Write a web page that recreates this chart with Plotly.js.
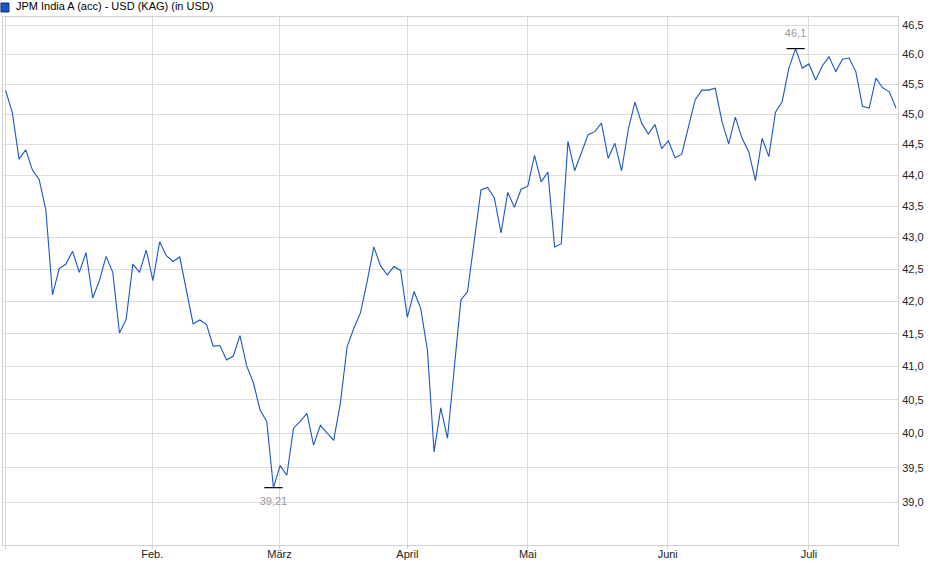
<!DOCTYPE html>
<html>
<head>
<meta charset="utf-8">
<script src="https://cdn.plot.ly/plotly-3.0.1.min.js"></script>
<style>
  html, body { margin: 0; padding: 0; background: #fff; }
  #chart { width: 940px; height: 579px; }
</style>
</head>
<body>
<div id="chart"></div>
<script>
// Series: JPM India A (acc) - USD, daily prices
const seriesName = 'JPM India A (acc) - USD (KAG) (in USD)';
const prices = [
  45.39, 45.02, 44.26, 44.41, 44.08, 43.93, 43.44, 42.10, 42.51, 42.58,
  42.78, 42.45, 42.76, 42.05, 42.32, 42.70, 42.45, 41.51, 41.72, 42.58,
  42.45, 42.80, 42.32, 42.93, 42.71, 42.62, 42.69, 42.18, 41.65, 41.71,
  41.64, 41.31, 41.32, 41.10, 41.16, 41.47, 41.01, 40.76, 40.35, 40.18,
  39.21, 39.53, 39.39, 40.08, 40.18, 40.30, 39.83, 40.12, 40.01, 39.90,
  40.45, 41.30, 41.58, 41.82, 42.31, 42.85, 42.55, 42.41, 42.54, 42.48,
  41.75, 42.15, 41.89, 41.25, 39.73, 40.38, 39.93, 40.95, 42.02, 42.15,
  42.93, 43.76, 43.80, 43.63, 43.07, 43.72, 43.48, 43.77, 43.82, 44.32,
  43.89, 44.05, 42.85, 42.90, 44.55, 44.07, 44.36, 44.66, 44.71, 44.85,
  44.27, 44.52, 44.07, 44.74, 45.20, 44.85, 44.67, 44.83, 44.43, 44.56,
  44.28, 44.34, 44.79, 45.24, 45.40, 45.40, 45.43, 44.88, 44.51, 44.95,
  44.60, 44.38, 43.91, 44.60, 44.30, 45.03, 45.21, 45.77, 46.10, 45.77,
  45.84, 45.57, 45.81, 45.96, 45.71, 45.92, 45.94, 45.71, 45.13, 45.10,
  45.60, 45.44, 45.37, 45.10
];
const days = prices.map((_, i) => i);

// Month starts (position in trading days) and labels
const monthPos = [-0.1, 21.9, 40.9, 60.0, 78.0, 98.9, 120.0];
const monthLabels = ['', 'Feb.', 'März', 'April', 'Mai', 'Juni', 'Juli'];

// Price axis ticks
const priceTicks = [39.0, 39.5, 40.0, 40.5, 41.0, 41.5, 42.0, 42.5, 43.0, 43.5, 44.0, 44.5, 45.0, 45.5, 46.0, 46.5];

const fmt = v => String(v).replace('.', ',');

// High / low markers
const hiIdx = prices.indexOf(Math.max(...prices));
const loIdx = prices.indexOf(Math.min(...prices));

const lineTrace = {
    x: days,
    y: prices,
    type: 'scatter',
    mode: 'lines',
    line: { color: '#1a57c4', width: 1.1 },
    showlegend: false,
    hoverinfo: 'skip'
};

const capStyle = { symbol: 'line-ew', size: 13, line: { color: '#000', width: 1.2 } };
const capFont = { family: 'Liberation Sans, Arial, sans-serif', size: 11, color: '#999' };

const hiTrace = {
    x: [hiIdx],
    y: [prices[hiIdx]],
    type: 'scatter',
    mode: 'markers+text',
    marker: capStyle,
    text: [fmt(prices[hiIdx])],
    textposition: 'top center',
    textfont: capFont,
    showlegend: false,
    hoverinfo: 'skip',
    cliponaxis: false
};

const loTrace = {
    x: [loIdx],
    y: [prices[loIdx]],
    type: 'scatter',
    mode: 'markers+text',
    marker: capStyle,
    text: [fmt(prices[loIdx])],
    textposition: 'bottom center',
    textfont: capFont,
    showlegend: false,
    hoverinfo: 'skip',
    cliponaxis: false
};

const axisFont = { family: 'Liberation Sans, Arial, sans-serif', size: 11, color: '#222' };

const layout = {
    width: 940,
    height: 579,
    paper_bgcolor: '#fff',
    plot_bgcolor: '#fff',
    margin: { l: 3, r: 42, t: 17, b: 34 },
    font: axisFont,
    showlegend: false,
    hovermode: false,
    xaxis: {
        type: 'linear',
        range: [-0.4, 133.3],
        tickvals: monthPos,
        ticktext: monthLabels,
        tickfont: axisFont,
        showgrid: true,
        gridcolor: '#dddddd',
        gridwidth: 1,
        zeroline: false,
        showline: true,
        mirror: true,
        linecolor: '#d0d0d0',
        linewidth: 1,
        ticks: 'outside',
        ticklen: 3,
        tickcolor: '#d0d0d0',
        ticklabelstandoff: -4
    },
    yaxis: {
        type: 'log',
        side: 'right',
        range: [Math.log10(38.39), Math.log10(46.64)],
        tickvals: priceTicks,
        ticktext: priceTicks.map(v => v.toFixed(1).replace('.', ',')),
        tickfont: axisFont,
        showgrid: true,
        gridcolor: '#dddddd',
        gridwidth: 1,
        zeroline: false,
        showline: true,
        mirror: true,
        linecolor: '#d0d0d0',
        linewidth: 1,
        ticks: '',
        ticklabelstandoff: 1
    },
    shapes: [
        {
            type: 'rect', xref: 'paper', yref: 'paper',
            xsizemode: 'pixel', ysizemode: 'pixel',
            xanchor: -0.0034, yanchor: 1.0,
            x0: 1, x1: 9, y0: 5, y1: 14,
            fillcolor: '#1a57c4',
            line: { color: '#0f2f6e', width: 1 }
        }
    ],
    annotations: [
        {
            text: seriesName,
            xref: 'paper', yref: 'paper',
            x: 0.0125, y: 1.0,
            xanchor: 'left', yanchor: 'bottom',
            yshift: 3,
            showarrow: false,
            font: { family: 'Liberation Sans, Arial, sans-serif', size: 11, color: '#000' }
        }
    ]
};

Plotly.newPlot('chart', [lineTrace, hiTrace, loTrace], layout, { displayModeBar: false, staticPlot: true });
</script>
</body>
</html>
